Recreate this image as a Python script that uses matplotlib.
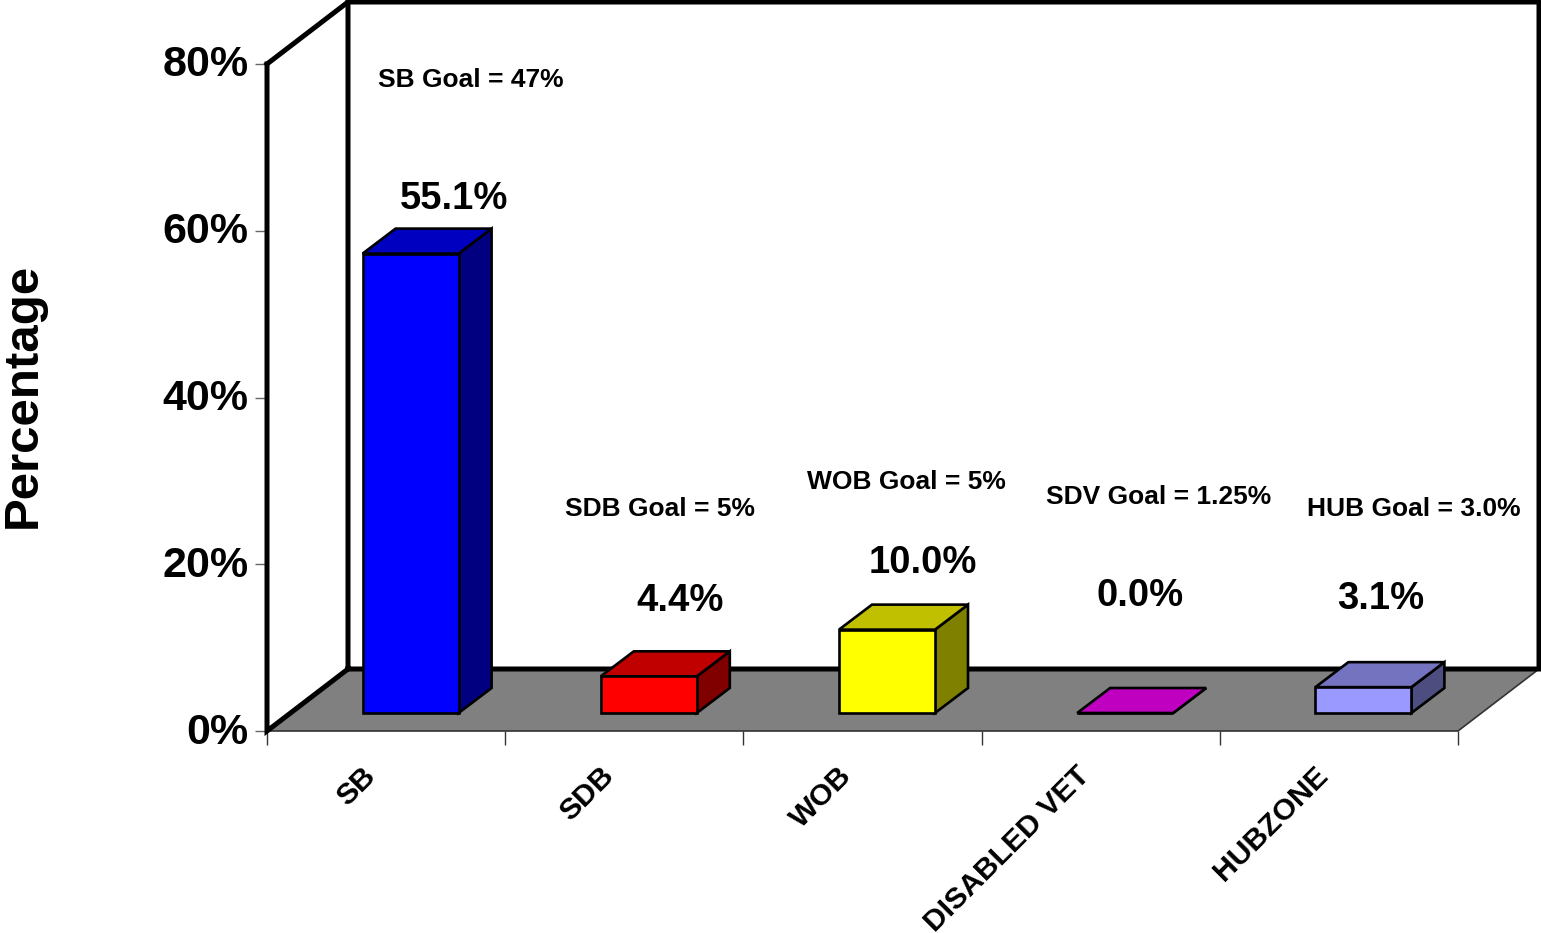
import matplotlib
matplotlib.use("Agg")
import matplotlib.pyplot as plt
from matplotlib.patches import Polygon
from matplotlib.transforms import ScaledTranslation

categories = ["SB", "SDB", "WOB", "DISABLED VET", "HUBZONE"]
values = [55.1, 4.4, 10.0, 0.0, 3.1]
value_labels = ["55.1%", "4.4%", "10.0%", "0.0%", "3.1%"]
goal_labels = ["SB Goal = 47%", "SDB Goal = 5%", "WOB Goal = 5%", "SDV Goal = 1.25%", "HUB Goal = 3.0%"]
y_ticks = [0, 20, 40, 60, 80]
y_tick_labels = ["0%", "20%", "40%", "60%", "80%"]

front_colors = ["#0000ff", "#ff0000", "#ffff00", "#c000c0", "#9999ff"]
top_colors = ["#0000c0", "#c00000", "#c0c000", "#c000c0", "#7373bf"]
side_colors = ["#000080", "#800000", "#808000", "#800080", "#4d4d80"]

# label positions in pixels, measured on the reference
value_pos = [(454, 199), (680, 601), (923, 563), (1140, 596), (1381, 599)]
goal_pos = [(471, 80), (660, 509), (906, 482), (1159, 497), (1414, 509)]

W, H = 1541, 933
plt.rcParams["font.family"] = ["Liberation Sans", "DejaVu Sans"]
plt.rcParams["font.weight"] = "bold"

fig = plt.figure(figsize=(W / 100, H / 100), dpi=100)
ax = fig.add_axes([267 / W, (H - 731) / H, 1191 / W, 667 / H])
ax.set_xlim(0, len(categories))
ax.set_ylim(0, 80)
for s in ax.spines.values():
    s.set_visible(False)
ax.patch.set_alpha(0)

# depth of the chart box, in data units
px_x = len(categories) / 1191
px_y = 80 / 667
wall_dx, wall_dy = 81 * px_x, 62 * px_y

floor = [(0, 0), (5, 0), (5 + wall_dx, wall_dy), (wall_dx, wall_dy)]
ax.add_patch(Polygon(floor, closed=True, fc="#808080", ec="#333333", lw=1.2, clip_on=False, zorder=1))

# heavy black outline of the walls
wall_lw = 3.6
ax.plot([0, 0, wall_dx, wall_dx, 5 + wall_dx, 5 + wall_dx, wall_dx],
        [80, 0, wall_dy, 80 + wall_dy, 80 + wall_dy, wall_dy, wall_dy],
        color="black", lw=wall_lw, clip_on=False, zorder=2, solid_joinstyle="miter")
ax.plot([0, wall_dx], [80, 80 + wall_dy], color="black", lw=wall_lw, clip_on=False, zorder=2)

# bars sit part way into the floor
bar_w = 96 * px_x
bar_dx, bar_dy = 33 * px_x, 25 * px_y
bar_base = 18 * px_y
bar_shift = 24.5 * px_x

for i, v in enumerate(values):
    x0 = i + 0.5 + bar_shift - bar_w / 2
    x1 = x0 + bar_w
    y0 = bar_base
    y1 = y0 + v
    kw = dict(closed=True, ec="black", lw=1.9, clip_on=False, zorder=3, joinstyle="miter")
    ax.add_patch(Polygon([(x1, y0), (x1 + bar_dx, y0 + bar_dy), (x1 + bar_dx, y1 + bar_dy), (x1, y1)],
                         fc=side_colors[i], **kw))
    ax.add_patch(Polygon([(x0, y1), (x1, y1), (x1 + bar_dx, y1 + bar_dy), (x0 + bar_dx, y1 + bar_dy)],
                         fc=top_colors[i], **kw))
    ax.add_patch(Polygon([(x0, y0), (x1, y0), (x1, y1), (x0, y1)], fc=front_colors[i], **kw))

ax.set_yticks(y_ticks)
ax.set_yticklabels(y_tick_labels, fontsize=31, fontweight="bold")
ax.tick_params(axis="y", length=8.5, width=1, color="#666666", pad=5)
for lab in ax.get_yticklabels():
    lab.set_transform(lab.get_transform() + ScaledTranslation(0, 3 / 100, fig.dpi_scale_trans))

ax.set_xticks(range(len(categories) + 1))
ax.set_xticklabels([])
ax.tick_params(axis="x", which="major", length=10, width=1, color="#333333")
ax.set_xticks([i + 0.5 for i in range(len(categories))], minor=True)
ax.set_xticklabels(categories, minor=True, rotation=45, ha="right", va="top",
                   rotation_mode="anchor", fontsize=21.7, fontweight="bold")
ax.tick_params(axis="x", which="minor", length=0, pad=22)
for lab in ax.get_xticklabels(minor=True):
    lab.set_transform(lab.get_transform() + ScaledTranslation(-25 / 100, 0, fig.dpi_scale_trans))

fig.text(23 / W, 1 - 395 / H, "Percentage", rotation=90, ha="center", va="center",
         fontsize=35.5, fontweight="bold")

for (x, y), t in zip(value_pos, value_labels):
    fig.text(x / W, 1 - y / H, t, ha="center", va="center", fontsize=27.5, fontweight="bold")
for (x, y), t in zip(goal_pos, goal_labels):
    fig.text(x / W, 1 - y / H, t, ha="center", va="center", fontsize=19, fontweight="bold")

fig.savefig("out.png", dpi=100)
